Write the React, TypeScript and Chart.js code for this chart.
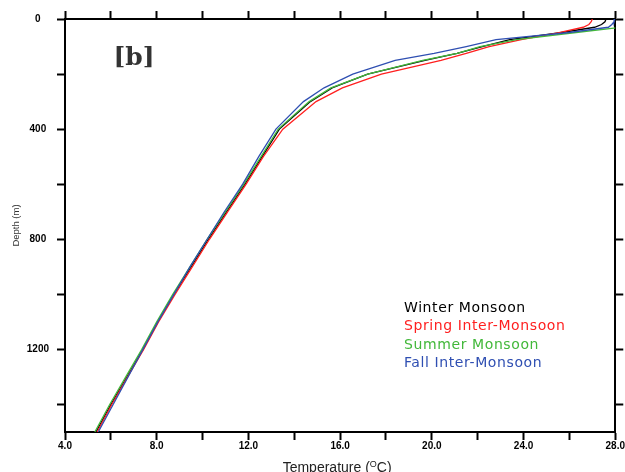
import { useEffect, useRef } from 'react';
import { Chart, registerables } from 'chart.js';

Chart.register(...registerables);

// Depth levels (m)
const depths = [0, 10, 20, 30, 50, 75, 100, 125, 150, 200, 250, 300, 400, 500, 600, 700, 800, 900, 1000, 1100, 1200, 1300, 1400, 1500];

// Temperature (°C) per season at each depth
const winterMonsoon = [27.6, 27.55, 27.4, 27.1, 25.6, 23.4, 22.2, 21.1, 19.7, 17.2, 15.65, 14.7, 13.35, 12.6, 11.85, 11.05, 10.25, 9.5, 8.75, 8.05, 7.4, 6.7, 6.0, 5.35];
const springInterMonsoon = [27.0, 26.95, 26.85, 26.6, 25.5, 23.9, 22.5, 21.5, 20.4, 17.8, 16.1, 14.95, 13.5, 12.65, 11.9, 11.1, 10.3, 9.55, 8.8, 8.08, 7.43, 6.73, 6.04, 5.4];
const summerMonsoon = [28.6, 28.55, 28.45, 28.3, 26.2, 23.7, 22.1, 21.1, 19.6, 17.2, 15.6, 14.65, 13.3, 12.55, 11.8, 11.0, 10.2, 9.45, 8.7, 8.0, 7.35, 6.65, 5.95, 5.3];
const fallInterMonsoon = [27.98, 27.95, 27.85, 27.7, 25.9, 22.8, 21.5, 20.1, 18.4, 16.55, 15.3, 14.4, 13.2, 12.45, 11.75, 10.95, 10.2, 9.45, 8.75, 8.05, 7.4, 6.75, 6.1, 5.45];

const seriesNames = ['Winter Monsoon', 'Spring Inter-Monsoon', 'Summer Monsoon', 'Fall Inter-Monsoon'];
const seriesColors = ['#000000', '#ff1f1f', '#42b83a', '#2f4fb2'];

const panelLabel = '[b]';
const xTitle = 'Temperature (';
const xTitleSup = 'O';
const xTitleEnd = 'C)';
const yTitle = 'Depth (m)';

export default function App() {
  const ref = useRef<HTMLCanvasElement>(null);

  useEffect(() => {
    if (!ref.current) return;
    const series = [winterMonsoon, springInterMonsoon, summerMonsoon, fallInterMonsoon];
    const datasets = series.map((vals, i) => ({
      label: seriesNames[i],
      data: vals.map((t, j) => ({ x: t, y: depths[j] })),
      borderColor: seriesColors[i],
      backgroundColor: seriesColors[i],
      borderWidth: 1.3,
      pointRadius: 0,
      showLine: true,
      tension: 0,
      fill: false,
      order: 4 - i,
    }));

    const overlay = {
      id: 'overlay',
      afterDraw(chart: any) {
        const ctx = chart.ctx as CanvasRenderingContext2D;
        const a = chart.chartArea;
        ctx.save();
        // panel label
        ctx.font = 'bold 25px "DejaVu Serif"';
        ctx.fillStyle = '#333333';
        ctx.textAlign = 'center';
        ctx.textBaseline = 'middle';
        ctx.fillText(panelLabel, a.left + 69, a.top + 39);

        // legend (coloured text)
        ctx.font = '14px "DejaVu Sans"';
        ctx.textAlign = 'left';
        ctx.textBaseline = 'alphabetic';
        (ctx as any).letterSpacing = '0.6px';
        const baselines = [312, 330, 348.5, 367];
        seriesNames.forEach((name, i) => {
          ctx.fillStyle = seriesColors[i];
          ctx.fillText(name, 404, baselines[i]);
        });
        (ctx as any).letterSpacing = '0px';

        // x axis title with superscript
        ctx.fillStyle = '#222222';
        const mainFont = '14px "Liberation Sans"';
        const supFont = '9px "Liberation Sans"';
        ctx.font = mainFont;
        const w1 = ctx.measureText(xTitle).width;
        const w3 = ctx.measureText(xTitleEnd).width;
        ctx.font = supFont;
        const w2 = ctx.measureText(xTitleSup).width;
        const total = w1 + w2 + w3;
        let x = (a.left + a.right) / 2 - 3 - total / 2;
        const base = 472;
        ctx.font = mainFont;
        ctx.fillText(xTitle, x, base);
        x += w1;
        ctx.font = supFont;
        ctx.fillText(xTitleSup, x, base - 5);
        x += w2;
        ctx.font = mainFont;
        ctx.fillText(xTitleEnd, x, base);
        ctx.restore();
      },
    };

    const tickFont = { family: '"Liberation Sans"', size: 10, weight: 'bold' as const };
    const gridCommon = {
      drawOnChartArea: false,
      drawTicks: true,
      tickLength: 8,
      tickWidth: 2,
      tickColor: '#000000',
      color: '#000000',
    };
    const borderCommon = { display: true, color: '#000000', width: 2 };

    const chart = new Chart(ref.current, {
      type: 'scatter',
      data: { datasets },
      options: {
        animation: false,
        responsive: true,
        maintainAspectRatio: false,
        events: [],
        layout: { padding: 0, autoPadding: false },
        plugins: {
          legend: { display: false },
          tooltip: { enabled: false },
        },
        scales: {
          x: {
            type: 'linear',
            axis: 'x',
            position: 'bottom',
            min: 4,
            max: 28,
            grid: gridCommon,
            border: borderCommon,
            ticks: {
              stepSize: 2,
              autoSkip: false,
              maxRotation: 0,
              padding: 0,
              color: '#000000',
              font: tickFont,
              callback: (v: any) => ((Number(v) - 4) % 4 === 0 ? Number(v).toFixed(1) : ''),
            },
            afterFit: (s: any) => { s.height = 40; },
          },
          x2: {
            type: 'linear',
            axis: 'x',
            position: 'top',
            min: 4,
            max: 28,
            grid: gridCommon,
            border: borderCommon,
            ticks: { stepSize: 2, autoSkip: false, display: false },
            afterFit: (s: any) => { s.height = 19; },
          },
          y: {
            type: 'linear',
            axis: 'y',
            position: 'left',
            reverse: true,
            min: 0,
            max: 1500,
            grid: gridCommon,
            border: borderCommon,
            title: {
              display: true,
              text: yTitle,
              color: '#333333',
              font: { family: '"Liberation Sans"', size: 9.5 },
              padding: { top: 11, bottom: 0 },
            },
            ticks: {
              stepSize: 200,
              includeBounds: false,
              autoSkip: false,
              crossAlign: 'center',
              padding: 8,
              color: '#000000',
              font: tickFont,
              callback: (v: any) => (Number(v) % 400 === 0 ? String(v) : ''),
            },
            afterFit: (s: any) => { s.width = 65; },
          },
          y2: {
            type: 'linear',
            axis: 'y',
            position: 'right',
            reverse: true,
            min: 0,
            max: 1500,
            grid: gridCommon,
            border: borderCommon,
            ticks: { stepSize: 200, includeBounds: false, autoSkip: false, display: false },
            afterFit: (s: any) => { s.width = 9; },
          },
        },
      } as any,
      plugins: [overlay],
    });
    return () => chart.destroy();
  }, []);

  return (
    <div style={{ position: 'fixed', left: 0, top: 0, width: 625, height: 472, background: '#ffffff' }}>
      <canvas ref={ref} />
    </div>
  );
}
